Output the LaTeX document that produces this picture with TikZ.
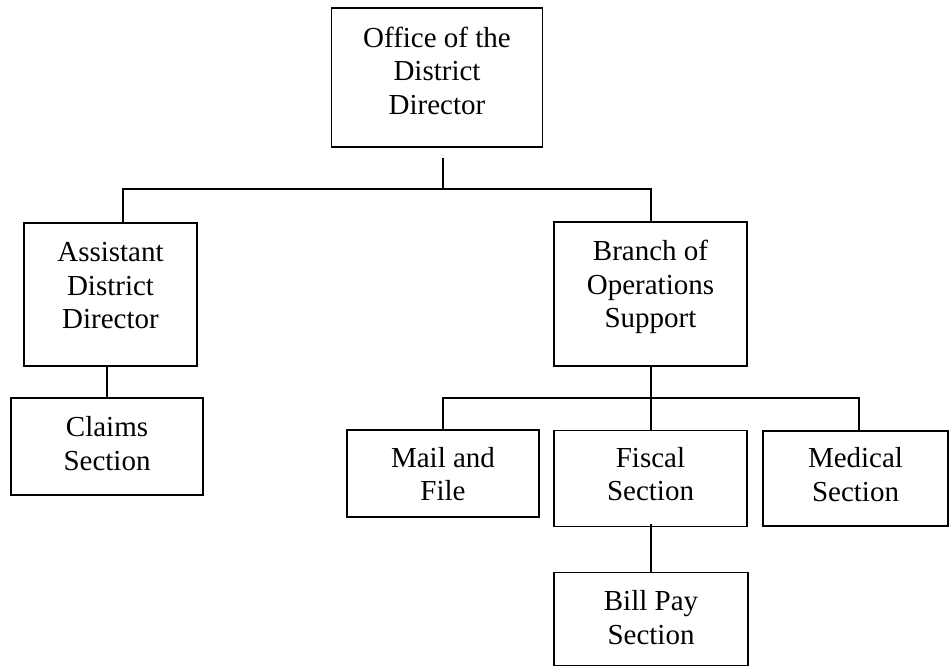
\documentclass[tikz,border=0pt]{standalone}
\usepackage{fontspec}
\setmainfont{Liberation Serif}
\usetikzlibrary{calc}
\begin{document}
\begin{tikzpicture}[x=1pt,y=1pt,
  box/.style={draw, line width=1.8pt, inner sep=0pt},
  boxtext/.style={anchor=north, inner sep=0pt, align=center,
    font=\fontsize{29}{33.5}\selectfont},
  conn/.style={line width=1.8pt}
]
% page area
\fill[white] (0,0) rectangle (950,-667);
\useasboundingbox (0,0) rectangle (950,-667);

% boxes
\node[box, minimum width=211pt, minimum height=139pt] (office)  at (437,-77.5) {};
\node[box, minimum width=173pt, minimum height=143pt] (asst)    at (110.5,-294.5) {};
\node[box, minimum width=192pt, minimum height=97pt]  (claims)  at (107,-446.5) {};
\node[box, minimum width=193pt, minimum height=144pt] (branch)  at (650.5,-294) {};
\node[box, minimum width=192pt, minimum height=87pt]  (mail)    at (443,-473.5) {};
\node[box, minimum width=193pt, minimum height=96pt]  (fiscal)  at (650.5,-478.5) {};
\node[box, minimum width=185pt, minimum height=95pt]  (medical) at (855.5,-478.5) {};
\node[box, minimum width=194pt, minimum height=93pt]  (billpay) at (651,-619) {};

% box texts, set from the top of each box
\node[boxtext] (office-t)  at ($(office.north)+(0,-19.5)$)  {Office of the\\District\\Director};
\node[boxtext] (asst-t)    at ($(asst.north)+(0,-20)$)      {Assistant\\District\\Director};
\node[boxtext] (claims-t)  at ($(claims.north)+(0,-19.5)$)  {Claims\\Section};
\node[boxtext] (branch-t)  at ($(branch.north)+(0,-19)$)    {Branch of\\Operations\\Support};
\node[boxtext] (mail-t)    at ($(mail.north)+(0,-18)$)      {Mail and\\File};
\node[boxtext] (fiscal-t)  at ($(fiscal.north)+(0,-17.5)$)  {Fiscal\\Section};
\node[boxtext] (medical-t) at ($(medical.north)+(0,-17.5)$) {Medical\\Section};
\node[boxtext] (billpay-t) at ($(billpay.north)+(0,-19)$)   {Bill Pay\\Section};

% junction points of the connector lines
\coordinate (busC) at (443,-189);
\coordinate (busL) at (123,-189);
\coordinate (busR) at (651,-189);
\coordinate (subC) at (651,-398);
\coordinate (subL) at (443,-398);
\coordinate (subR) at (859,-398);

% connectors
\draw[conn, shorten <=10pt] (office.south -| busC) -- (busC);
\draw[conn] (busL |- asst.north) -- (busL) -- (busR) -- (busR |- branch.north);
\draw[conn] (asst.south -| claims.north) -- (claims.north);
\draw[conn] (branch.south -| subC) -- (subC);
\draw[conn] (subL |- mail.north) -- (subL) -- (subR) -- (subR |- medical.north);
\draw[conn] (subC) -- (subC |- fiscal.north);
\draw[conn, shorten <=-3pt] (fiscal.south -| subC) -- (subC |- billpay.north);
\end{tikzpicture}
\end{document}
